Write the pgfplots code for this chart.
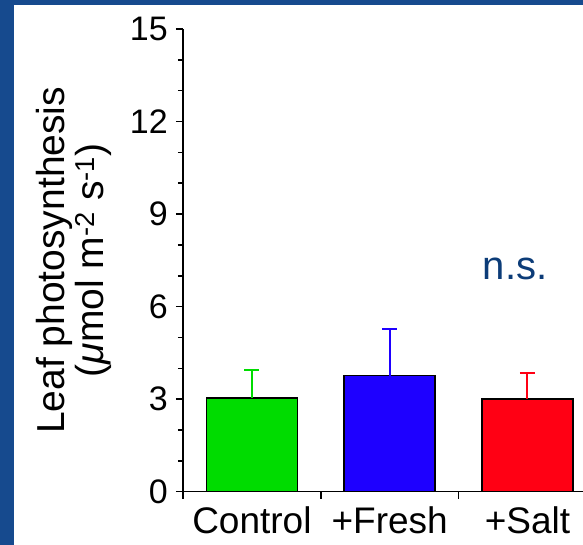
\documentclass[border=0pt]{standalone}
\usepackage{pgfplots}
\pgfplotsset{compat=1.18}
\usepackage{fontspec}
\setmainfont{Liberation Sans}
\definecolor{bgblue}{RGB}{22,74,142}
\definecolor{barG}{RGB}{0,220,0}
\definecolor{barB}{RGB}{30,0,255}
\definecolor{barR}{RGB}{255,0,20}
\definecolor{nsblue}{RGB}{12,60,120}
\begin{document}
\begin{tikzpicture}
\useasboundingbox (-183pt,-53.3pt) rectangle (400pt,491.7pt);
\fill[bgblue] (-183pt,-53.3pt) rectangle (400pt,491.7pt);
\fill[white] (-169pt,-53.3pt) rectangle (400pt,486.7pt);
\begin{axis}[
  scale only axis, width=400pt, height=462.7pt,
  xmin=-0.5, xmax=2.403, ymin=0, ymax=15,
  axis x line=bottom, axis y line=left,
  axis line style={line width=1.5pt, -},
  every tick/.style={black, line width=1.5pt},
  tick align=outside,
  major tick length=7pt, minor tick length=5pt,
  ytick={0,3,6,9,12,15}, minor y tick num=2,
  xtick={-0.5,0.5,1.5}, xticklabels={},
  extra x ticks={0,1,2},
  extra x tick labels={Control,+Fresh,+Salt},
  extra x tick style={major tick length=0pt},
  xticklabel style={font=\fontsize{37}{37}\selectfont, anchor=north, inner sep=0pt, yshift=-15pt},
  /pgf/number format/assume math mode=true,
  yticklabel style={font=\fontsize{34}{34}\selectfont, inner sep=0pt, xshift=-8pt},
  ylabel={Leaf photosynthesis\\({\itshape μ}mol m\textsuperscript{-2} s\textsuperscript{-1})},
  ylabel style={font=\fontsize{39}{39}\selectfont, align=center, at={(axis description cs:0,0.5)}, anchor=south, inner sep=0pt, yshift=71pt},
  ybar, bar width=91pt,
  clip=false,
]
\addplot[bar shift=0pt, fill=barG, draw=black, line width=1.5pt,
  error bars/.cd, y dir=plus, y explicit,
  error bar style={draw=barG, line width=2pt},
  error mark options={draw=barG, line width=2pt, mark size=7.5pt, rotate=90}]
  coordinates {(0,3.03) +- (0,0.92)};
\addplot[bar shift=0pt, fill=barB, draw=black, line width=1.5pt,
  error bars/.cd, y dir=plus, y explicit,
  error bar style={draw=barB, line width=2pt},
  error mark options={draw=barB, line width=2pt, mark size=7.5pt, rotate=90}]
  coordinates {(1,3.76) +- (0,1.51)};
\addplot[bar shift=0pt, fill=barR, draw=black, line width=1.5pt,
  error bars/.cd, y dir=plus, y explicit,
  error bar style={draw=barR, line width=2pt},
  error mark options={draw=barR, line width=2pt, mark size=7.5pt, rotate=90}]
  coordinates {(2,3.0) +- (0,0.84)};
\node[anchor=base, text=nsblue, font=\fontsize{40}{40}\selectfont] at (axis cs:1.91,6.87) {n.s.};
\end{axis}
\end{tikzpicture}
\end{document}
